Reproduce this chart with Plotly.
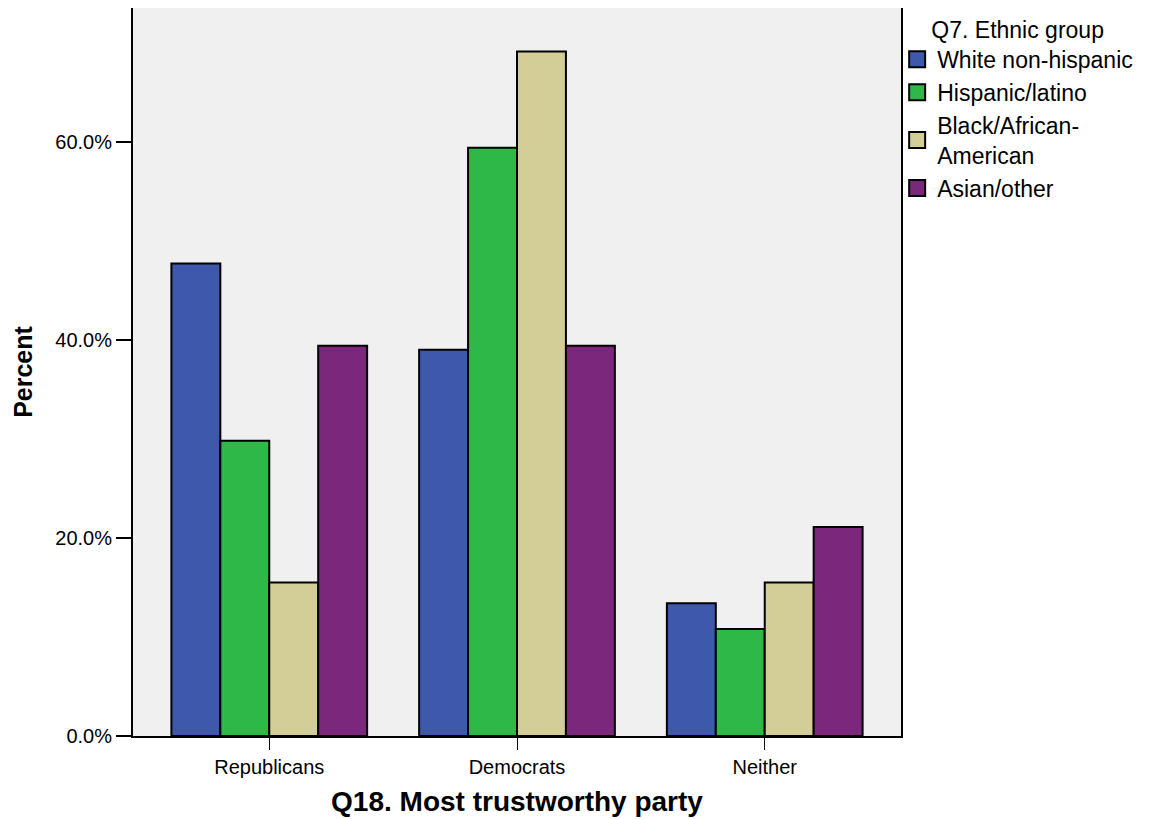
import plotly.graph_objects as go

categories = ["Republicans", "Democrats", "Neither"]
groups = ["White non-hispanic", "Hispanic/latino", "Black/African-<br>American", "Asian/other"]
white = [47.7, 39.0, 13.4]
hispanic = [29.8, 59.4, 10.8]
black = [15.5, 69.1, 15.5]
asian = [39.4, 39.4, 21.1]
series = [white, hispanic, black, asian]
colors = ["#3E58AC", "#2EB848", "#D3CE97", "#7B287C"]

fig = go.Figure()
for name, vals, col in zip(groups, series, colors):
    fig.add_trace(go.Bar(
        x=categories, y=vals, name=name, showlegend=False,
        marker=dict(color=col, line=dict(color="black", width=2)),
    ))
# legend entries with larger square swatches
for name, col in zip(groups, colors):
    fig.add_trace(go.Scatter(
        x=[None], y=[None], mode="markers", name=name,
        marker=dict(symbol="square", size=22, color=col, line=dict(color="black", width=2)),
    ))

font = "Liberation Sans, Arial, sans-serif"
fig.update_layout(
    width=1175, height=819,
    barmode="group", bargap=0.21, bargroupgap=0,
    plot_bgcolor="#F0F0F0", paper_bgcolor="white",
    margin=dict(l=125, r=282, t=0, b=91, autoexpand=False),
    font=dict(family=font, color="black"),
    showlegend=True,
    legend=dict(
        x=0.995, xanchor="left", y=1.0, yanchor="top",
        title=dict(text="Q7. Ethnic group", font=dict(size=23), side="top center"),
        font=dict(size=23), bgcolor="rgba(0,0,0,0)",
        traceorder="normal", itemwidth=30, tracegroupgap=0,
    ),
    xaxis=dict(
        range=[-0.55, 2.55], showline=True, linecolor="black", linewidth=2,
        mirror=True, ticks="outside", ticklen=12, tickwidth=1, tickcolor="black",
        tickfont=dict(size=20),
        title=dict(text="<b>Q18. Most trustworthy party</b>", font=dict(size=28), standoff=14),
    ),
    yaxis=dict(
        range=[0, 73.5], tickvals=[0, 20, 40, 60], ticktext=["0.0%", "20.0%", "40.0%", "60.0%"],
        showline=True, linecolor="black", linewidth=2, mirror=True,
        ticks="outside", ticklen=15, tickwidth=2, tickcolor="black",
        showgrid=False, zeroline=False, tickfont=dict(size=20),
        title=dict(text="<b>Percent</b>", font=dict(size=25), standoff=16),
    ),
)
fig.write_html("out.html")
